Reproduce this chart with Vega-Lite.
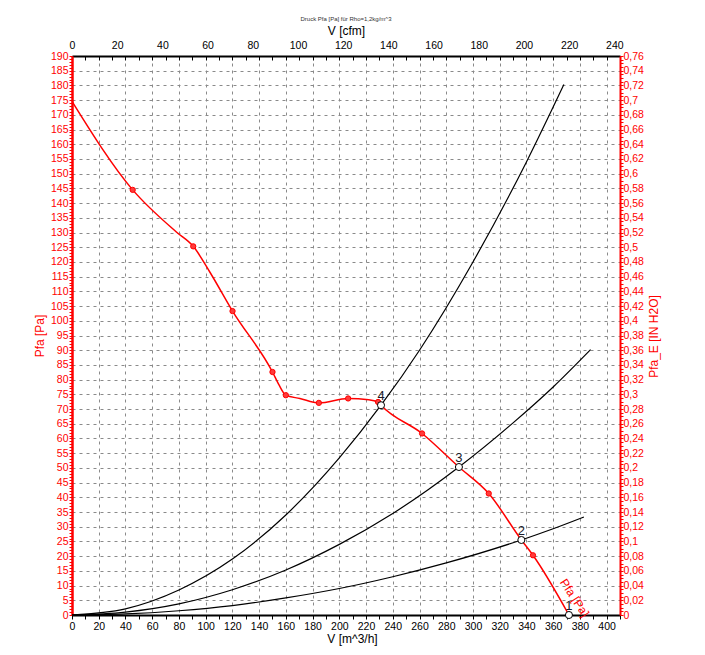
{
  "$schema": "https://vega.github.io/schema/vega-lite/v6.json",
  "width": 548,
  "height": 559,
  "autosize": "none",
  "padding": {"left": 72, "top": 56, "right": 85, "bottom": 40},
  "background": "white",
  "config": {"view": {"stroke": null}, "font": "Liberation Sans"},
  "title": {"text": "Druck Pfa [Pa] für Rho=1,2kg/m^3", "fontSize": 6, "fontWeight": "normal", "color": "#333333", "offset": 2, "anchor": "middle"},
  "layer": [
    {
      "encoding": {
        "x": {
          "field": "q", "type": "quantitative",
          "scale": {"domain": [0, 410], "nice": false, "zero": false},
          "axis": {
            "orient": "bottom", "title": "V [m^3/h]", "titleFontSize": 12, "titleFontWeight": "normal", "titleColor": "black",
            "titlePadding": 2, "titleX": 280,
            "tickCount": 41, "labelExpr": "datum.value % 20 == 0 ? datum.label : ''",
            "labelOverlap": false, "labelFlush": false, "labelFontSize": 10.5, "labelColor": "black", "labelPadding": 2,
            "tickColor": "black", "tickSize": 4, "domainColor": "black", "domainWidth": 2,
            "grid": true, "gridColor": "#8a8a8a", "gridDash": [3, 4], "gridWidth": 1,
            "gridOpacity": {"condition": {"test": "datum.value % 20 == 0", "value": 1}, "value": 0}
          }
        },
        "y": {
          "field": "pa", "type": "quantitative",
          "scale": {"domain": [0, 190], "nice": false},
          "axis": {
            "orient": "left", "title": "Pfa [Pa]", "titleFontSize": 12, "titleFontWeight": "normal", "titleColor": "red",
            "titlePadding": 4,
            "tickCount": 190, "labelExpr": "datum.value % 5 == 0 ? datum.label : ''",
            "labelOverlap": false, "labelFlush": false, "labelFontSize": 10.5, "labelColor": "red", "labelPadding": 1,
            "tickColor": "red", "tickSize": 3, "domainColor": "red", "domainWidth": 2.5,
            "grid": true, "gridColor": "#8a8a8a", "gridDash": [3, 4], "gridWidth": 1,
            "gridOpacity": {"condition": {"test": "datum.value % 5 == 0", "value": 1}, "value": 0}
          }
        }
      },
      "layer": [
        {
          "data": {"values": [
            {"c": "A", "q": 0, "pa": 0}, {"c": "A", "q": 40, "pa": 2.1}, {"c": "A", "q": 80, "pa": 8.5}, {"c": "A", "q": 120, "pa": 19}, {"c": "A", "q": 160, "pa": 34}, {"c": "A", "q": 200, "pa": 53.4}, {"c": "A", "q": 231.2, "pa": 71.3}, {"c": "A", "q": 260, "pa": 90}, {"c": "A", "q": 300, "pa": 120}, {"c": "A", "q": 340, "pa": 154}, {"c": "A", "q": 368, "pa": 180.3},
            {"c": "B", "q": 0, "pa": 0}, {"c": "B", "q": 40, "pa": 1}, {"c": "B", "q": 80, "pa": 3.8}, {"c": "B", "q": 120, "pa": 8.6}, {"c": "B", "q": 160, "pa": 15.3}, {"c": "B", "q": 200, "pa": 24}, {"c": "B", "q": 240, "pa": 34.5}, {"c": "B", "q": 289.5, "pa": 50.3}, {"c": "B", "q": 330, "pa": 65.3}, {"c": "B", "q": 360, "pa": 77.5}, {"c": "B", "q": 388, "pa": 90.2},
            {"c": "C", "q": 0, "pa": 0}, {"c": "C", "q": 40, "pa": 0.36}, {"c": "C", "q": 80, "pa": 1.45}, {"c": "C", "q": 120, "pa": 3.2}, {"c": "C", "q": 160, "pa": 5.8}, {"c": "C", "q": 200, "pa": 9}, {"c": "C", "q": 240, "pa": 13}, {"c": "C", "q": 280, "pa": 17.7}, {"c": "C", "q": 336.2, "pa": 25.5}, {"c": "C", "q": 360, "pa": 29.3}, {"c": "C", "q": 383, "pa": 33.3}
          ]},
          "mark": {"type": "line", "color": "black", "strokeWidth": 1.2, "interpolate": "monotone"},
          "encoding": {"detail": {"field": "c"}}
        },
        {
          "data": {"values": [
            {"q": 0, "pa": 174.6}, {"q": 45.4, "pa": 144.5}, {"q": 78.3, "pa": 130.1}, {"q": 90.7, "pa": 125.3}, {"q": 103.2, "pa": 116.5}, {"q": 120.1, "pa": 103.3}, {"q": 150, "pa": 82.6}, {"q": 155, "pa": 78.1}, {"q": 160, "pa": 74.7}, {"q": 170.5, "pa": 73.6}, {"q": 184.7, "pa": 72.1}, {"q": 206.6, "pa": 73.6}, {"q": 222, "pa": 73.2}, {"q": 229, "pa": 72.4}, {"q": 231.2, "pa": 71.3}, {"q": 261.9, "pa": 61.7}, {"q": 289.5, "pa": 50.3}, {"q": 311.8, "pa": 41.3}, {"q": 336.2, "pa": 25.5}, {"q": 344.9, "pa": 20.3}, {"q": 371.8, "pa": 0}
          ]},
          "mark": {"type": "line", "color": "red", "strokeWidth": 1.5, "interpolate": "monotone"},
          "encoding": {}
        },
        {
          "data": {"values": [
            {"q": 45.4, "pa": 144.5}, {"q": 90.7, "pa": 125.3}, {"q": 120.1, "pa": 103.3}, {"q": 150, "pa": 82.6}, {"q": 160, "pa": 74.7}, {"q": 184.7, "pa": 72.1}, {"q": 206.6, "pa": 73.6}, {"q": 229, "pa": 72.4}, {"q": 261.9, "pa": 61.7}, {"q": 311.8, "pa": 41.3}, {"q": 344.9, "pa": 20.3}
          ]},
          "mark": {"type": "point", "filled": true, "fill": "#ff3b3b", "stroke": "red", "strokeWidth": 1, "size": 28, "opacity": 1}
        },
        {
          "data": {"values": [
            {"q": 231.2, "pa": 71.3, "lab": "4"}, {"q": 289.5, "pa": 50.3, "lab": "3"}, {"q": 336.2, "pa": 25.5, "lab": "2"}, {"q": 371.8, "pa": 0, "lab": "1"}
          ]},
          "layer": [
            {"mark": {"type": "point", "filled": true, "fill": "white", "stroke": "black", "strokeWidth": 1, "size": 50, "opacity": 1}},
            {"mark": {"type": "text", "fontSize": 13, "color": "#1a1a2a", "dy": -9}, "encoding": {"text": {"field": "lab"}}}
          ]
        },
        {
          "data": {"values": [{"q": 376, "pa": 5.8, "t": "Pfa [Pa]"}]},
          "mark": {"type": "text", "fontSize": 12, "color": "red", "angle": 57},
          "encoding": {"text": {"field": "t"}}
        }
      ]
    },
    {
      "data": {"values": [{"cfm": 0, "inh": 0}]},
      "mark": {"type": "point", "opacity": 0},
      "encoding": {
        "x": {
          "field": "cfm", "type": "quantitative",
          "scale": {"domain": [0, 242.5], "nice": false, "zero": false},
          "axis": {
            "orient": "top", "title": "V [cfm]", "titleFontSize": 12, "titleFontWeight": "normal", "titleColor": "black", "titlePadding": 3,
            "tickCount": 12, "ticks": false, "labelPadding": 6, "labelFontSize": 10.5, "labelColor": "black",
            "labelOverlap": false, "labelFlush": false, "domainColor": "black", "domainWidth": 2, "grid": false
          }
        },
        "y": {
          "field": "inh", "type": "quantitative",
          "scale": {"domain": [0, 0.76], "nice": false},
          "axis": {
            "orient": "right", "title": "Pfa_E [IN H2O]", "titleAngle": 270, "titleFontSize": 12, "titleFontWeight": "normal", "titleColor": "red",
            "titleX": 40, "titleY": 280, "titleAlign": "center", "titleBaseline": "bottom",
            "tickCount": 152,
            "labelExpr": "round(datum.value*1000) % 20 == 0 ? replace(toString(round(datum.value*100)/100), '.', ',') : ''",
            "labelOverlap": false, "labelFlush": false, "labelFontSize": 10.5, "labelColor": "red", "labelPadding": 0,
            "tickColor": "red", "tickSize": 3, "domainColor": "red", "domainWidth": 2, "grid": false
          }
        }
      }
    },
    {
      "data": {"values": [{"q2": 0}]},
      "mark": {"type": "point", "opacity": 0},
      "encoding": {
        "x": {
          "field": "q2", "type": "quantitative",
          "scale": {"domain": [0, 410], "nice": false, "zero": false},
          "axis": {
            "orient": "top", "title": null, "labels": false, "tickCount": 41, "tickSize": -4, "tickColor": "black",
            "domain": false, "grid": false, "offset": 0
          }
        }
      }
    }
  ],
  "resolve": {"scale": {"x": "independent", "y": "independent"}}
}
